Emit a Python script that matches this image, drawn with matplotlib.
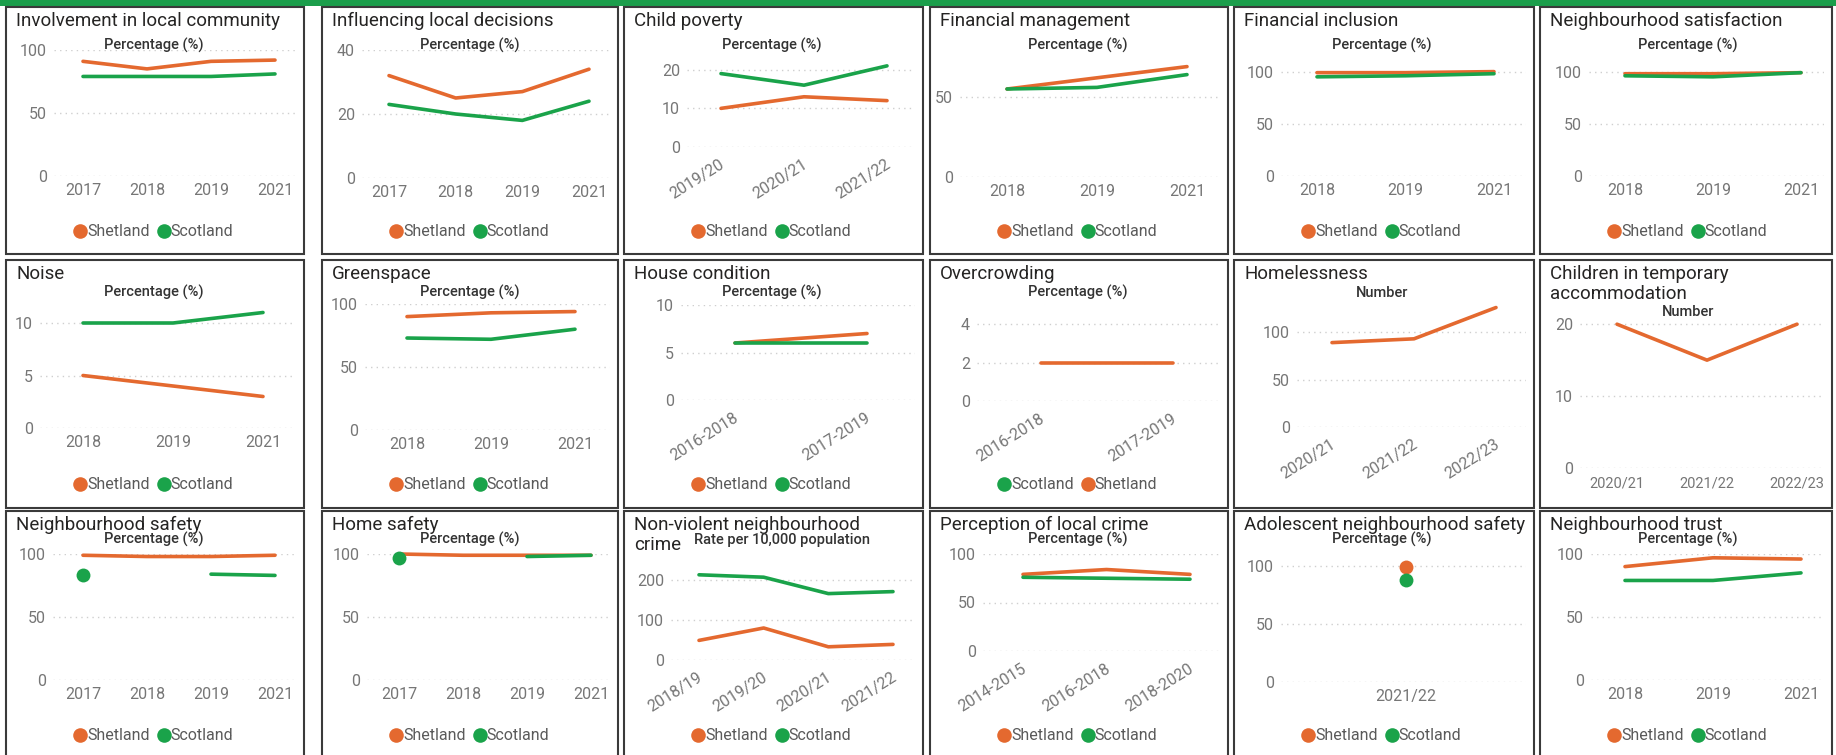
import numpy as np
import matplotlib
matplotlib.use("Agg")
import matplotlib.pyplot as plt
from matplotlib.patches import Rectangle
from matplotlib.lines import Line2D
from matplotlib.transforms import ScaledTranslation

plt.rcParams['font.family'] = ['Roboto', 'DejaVu Sans']

nan = np.nan

# ---------------- data ----------------
involvement_years = ["2017", "2018", "2019", "2021"]
involvement_shetland = [91, 85, 91, 92]
involvement_scotland = [79, 79, 79, 81]

influencing_years = ["2017", "2018", "2019", "2021"]
influencing_shetland = [32, 25, 27, 34]
influencing_scotland = [23, 20, 18, 24]

child_poverty_years = ["2019/20", "2020/21", "2021/22"]
child_poverty_shetland = [10, 13, 12]
child_poverty_scotland = [19, 16, 21]

fin_management_years = ["2018", "2019", "2021"]
fin_management_shetland = [55, 62, 69]
fin_management_scotland = [55, 56, 64]

fin_inclusion_years = ["2018", "2019", "2021"]
fin_inclusion_shetland = [99, 99, 100]
fin_inclusion_scotland = [95, 96, 98]

nbh_satisfaction_years = ["2018", "2019", "2021"]
nbh_satisfaction_shetland = [98, 98, 99]
nbh_satisfaction_scotland = [96, 95, 99]

noise_years = ["2018", "2019", "2021"]
noise_shetland = [5, 4, 3]
noise_scotland = [10, 10, 11]

greenspace_years = ["2018", "2019", "2021"]
greenspace_shetland = [90, 93, 94]
greenspace_scotland = [73, 72, 80]

house_condition_years = ["2016-2018", "2017-2019"]
house_condition_shetland = [6, 7]
house_condition_scotland = [6, 6]

overcrowding_years = ["2016-2018", "2017-2019"]
overcrowding_shetland = [2, 2]
overcrowding_scotland = [nan, nan]

homelessness_years = ["2020/21", "2021/22", "2022/23"]
homelessness_shetland = [89, 93, 126]

temp_accommodation_years = ["2020/21", "2021/22", "2022/23"]
temp_accommodation_shetland = [20, 15, 20]

nbh_safety_years = ["2017", "2018", "2019", "2021"]
nbh_safety_shetland = [99, 98, 98, 99]
nbh_safety_scotland = [83, nan, 84, 83]

home_safety_years = ["2017", "2018", "2019", "2021"]
home_safety_shetland = [100, 99, 99, 99]
home_safety_scotland = [97, nan, 98, 99]

crime_years = ["2018/19", "2019/20", "2020/21", "2021/22"]
crime_shetland = [49, 80, 33, 39]
crime_scotland = [213, 207, 166, 171]

crime_perception_years = ["2014-2015", "2016-2018", "2018-2020"]
crime_perception_shetland = [79, 84, 79]
crime_perception_scotland = [76, 75, 74]

adolescent_safety_years = ["2021/22"]
adolescent_safety_shetland = [99]
adolescent_safety_scotland = [88]

nbh_trust_years = ["2018", "2019", "2021"]
nbh_trust_shetland = [90, 97, 96]
nbh_trust_scotland = [79, 79, 85]

# ---------------- styling ----------------
W, H, DPI = 1836, 755, 100
SHET_C = '#E4692F'
SCOT_C = '#1AA34A'
BAND_C = '#1B9E4B'
BORDER_C = '#3A3A3A'
TITLE_C = '#252423'
SUB_C = '#333333'
TICK_C = '#767676'
LEG_C = '#5A5A5A'
GRID_C = '#CFCFCF'
LW = 2.6

COLS = [(6, 304), (322, 618), (624, 923), (930, 1228), (1234, 1534), (1540, 1832)]
ROWS = [(7, 254), (260, 508), (511, 758)]
SUB_BASE = {0: 43, 1: 37, 2: 33}

PCT = "Percentage (%)"
SL = ("Shetland", "Scotland")

PANELS = [
    dict(row=0, col=0, title=["Involvement in local community"], sub=PCT,
         cats=involvement_years, shet=involvement_shetland, scot=involvement_scotland, legend=SL,
         L=48, y0=169, ytop=43, ymax=100, yticks=[0, 50, 100], p0=77, pN=269, ticks='flat'),
    dict(row=0, col=1, title=["Influencing local decisions"], sub=PCT,
         cats=influencing_years, shet=influencing_shetland, scot=influencing_scotland, legend=SL,
         L=40, y0=171, ytop=43, ymax=40, yticks=[0, 20, 40], p0=67, pN=267, ticks='flat'),
    dict(row=0, col=2, title=["Child poverty"], sub=PCT,
         cats=child_poverty_years, shet=child_poverty_shetland, scot=child_poverty_scotland, legend=SL,
         L=63, y0=140, ytop=55, ymax=22, yticks=[0, 10, 20], p0=97, pN=263, ticks='rot'),
    dict(row=0, col=3, title=["Financial management"], sub=PCT,
         cats=fin_management_years, shet=fin_management_shetland, scot=fin_management_scotland, legend=SL,
         L=30, y0=170, ytop=50, ymax=75, yticks=[0, 50], p0=77, pN=257, ticks='flat'),
    dict(row=0, col=4, title=["Financial inclusion"], sub=PCT,
         cats=fin_inclusion_years, shet=fin_inclusion_shetland, scot=fin_inclusion_scotland, legend=SL,
         L=47, y0=169, ytop=50, ymax=114, yticks=[0, 50, 100], p0=83, pN=260, ticks='flat'),
    dict(row=0, col=5, title=["Neighbourhood satisfaction"], sub=PCT,
         cats=nbh_satisfaction_years, shet=nbh_satisfaction_shetland, scot=nbh_satisfaction_scotland,
         legend=SL, L=49, y0=169, ytop=50, ymax=114, yticks=[0, 50, 100], p0=85, pN=261, ticks='flat'),

    dict(row=1, col=0, title=["Noise"], sub=PCT,
         cats=noise_years, shet=noise_shetland, scot=noise_scotland, legend=SL,
         L=34, y0=168, ytop=42, ymax=12, yticks=[0, 5, 10], p0=77, pN=257, ticks='flat'),
    dict(row=1, col=1, title=["Greenspace"], sub=PCT,
         cats=greenspace_years, shet=greenspace_shetland, scot=greenspace_scotland, legend=SL,
         L=43, y0=170, ytop=44, ymax=100, yticks=[0, 50, 100], p0=85, pN=253, ticks='flat'),
    dict(row=1, col=2, title=["House condition"], sub=PCT,
         cats=house_condition_years, shet=house_condition_shetland, scot=house_condition_scotland,
         legend=SL, L=57, y0=140, ytop=45, ymax=10, yticks=[0, 5, 10], p0=111, pN=243, ticks='rot'),
    dict(row=1, col=3, title=["Overcrowding"], sub=PCT,
         cats=overcrowding_years, shet=overcrowding_shetland, scot=overcrowding_scotland,
         legend=("Scotland", "Shetland"),
         L=47, y0=141, ytop=45, ymax=5, yticks=[0, 2, 4], p0=111, pN=243, ticks='rot'),
    dict(row=1, col=4, title=["Homelessness"], sub="Number",
         cats=homelessness_years, shet=homelessness_shetland, scot=None, legend=None,
         L=63, y0=167, ytop=39, ymax=135, yticks=[0, 50, 100], p0=98, pN=262, ticks='rot'),
    dict(row=1, col=5, title=["Children in temporary", "accommodation"], sub="Number", sub_base=56,
         cats=temp_accommodation_years, shet=temp_accommodation_shetland, scot=None, legend=None,
         L=40, y0=208, ytop=57, ymax=21, yticks=[0, 10, 20], p0=77, pN=257, ticks='small'),

    dict(row=2, col=0, title=["Neighbourhood safety"], sub=PCT,
         cats=nbh_safety_years, shet=nbh_safety_shetland, scot=nbh_safety_scotland, legend=SL,
         L=47, y0=169, ytop=43, ymax=100, yticks=[0, 50, 100], p0=77, pN=269, ticks='flat'),
    dict(row=2, col=1, title=["Home safety"], sub=PCT,
         cats=home_safety_years, shet=home_safety_shetland, scot=home_safety_scotland, legend=SL,
         L=45, y0=169, ytop=43, ymax=100, yticks=[0, 50, 100], p0=77, pN=269, ticks='flat'),
    dict(row=2, col=2, title=["Non-violent neighbourhood", "crime"], sub="Rate per 10,000 population",
         sub_x=158,
         cats=crime_years, shet=crime_shetland, scot=crime_scotland, legend=SL,
         L=47, y0=149, ytop=53, ymax=240, yticks=[0, 100, 200], p0=75, pN=269, ticks='rot'),
    dict(row=2, col=3, title=["Perception of local crime"], sub=PCT,
         cats=crime_perception_years, shet=crime_perception_shetland, scot=crime_perception_scotland,
         legend=SL, L=53, y0=140, ytop=43, ymax=100, yticks=[0, 50, 100], p0=93, pN=260, ticks='rot'),
    dict(row=2, col=4, title=["Adolescent neighbourhood safety"], sub=PCT,
         cats=adolescent_safety_years, shet=adolescent_safety_shetland, scot=adolescent_safety_scotland,
         legend=SL, L=47, y0=171, ytop=43, ymax=110, yticks=[0, 50, 100], p0=172, pN=172, ticks='flat'),
    dict(row=2, col=5, title=["Neighbourhood trust"], sub=PCT,
         cats=nbh_trust_years, shet=nbh_trust_shetland, scot=nbh_trust_scotland, legend=SL,
         L=51, y0=169, ytop=43, ymax=100, yticks=[0, 50, 100], p0=85, pN=261, ticks='flat'),
]

fig = plt.figure(figsize=(W / DPI, H / DPI), dpi=DPI)
fig.patch.set_facecolor('white')


def fx(x):
    return x / W


def fy(y):
    return 1 - y / H


def px_offset(dx, dy):
    return ScaledTranslation(dx / DPI, -dy / DPI, fig.dpi_scale_trans)


# green header band
fig.add_artist(Rectangle((0, fy(6)), 1, 6 / H, transform=fig.transFigure,
                         facecolor=BAND_C, edgecolor='none', zorder=1))


def plot_series(ax, values, color):
    v = np.asarray(values, dtype=float)
    idx = np.arange(len(v))
    ax.plot(idx, v, color=color, lw=LW, solid_capstyle='round', solid_joinstyle='round',
            clip_on=False, zorder=3)
    ok = np.isfinite(v)
    for i in idx:
        left = i > 0 and ok[i - 1]
        right = i < len(v) - 1 and ok[i + 1]
        if ok[i] and not left and not right:
            ax.plot([i], [v[i]], 'o', color=color, ms=10, mec='none', clip_on=False, zorder=3)


for p in PANELS:
    x0, x1 = COLS[p['col']]
    yt, yb = ROWS[p['row']]
    pw = x1 - x0

    fig.add_artist(Rectangle((fx(x0), fy(yb)), pw / W, (yb - yt) / H, transform=fig.transFigure,
                             fill=False, edgecolor=BORDER_C, lw=1.5, zorder=1))

    for i, line in enumerate(p['title']):
        fig.text(fx(x0 + 10), fy(yt + 19 + 20 * i), line, fontsize=13.5, color=TITLE_C,
                 ha='left', va='baseline')

    sub_base = p.get('sub_base', SUB_BASE[p['row']])
    fig.text(fx(x0 + p.get('sub_x', 148)), fy(yt + sub_base), p['sub'], fontsize=10.5,
             color=SUB_C, ha='center', va='baseline', fontweight='medium')

    L, R = p['L'], pw - 8
    ax = fig.add_axes([fx(x0 + L), fy(yt + p['y0']), (R - L) / W, (p['y0'] - p['ytop']) / H])
    ax.set_facecolor('none')
    for s in ax.spines.values():
        s.set_visible(False)

    n = len(p['cats'])
    step = (p['pN'] - p['p0']) / (n - 1) if n > 1 else 100.0
    ax.set_xlim(-(p['p0'] - L) / step, (n - 1) + (R - p['pN']) / step)
    ax.set_ylim(0, p['ymax'])

    ax.set_yticks(p['yticks'])
    ax.yaxis.grid(True, color=GRID_C, lw=1.0, ls=(0, (1, 3)))
    ax.set_axisbelow(True)
    ax.tick_params(axis='y', length=0, labelsize=11.5, labelcolor=TICK_C, pad=5)

    ax.set_xticks(np.arange(n))
    if p['ticks'] == 'rot':
        ax.set_xticklabels(p['cats'], rotation=32, ha='right', va='top', rotation_mode='anchor')
        ax.tick_params(axis='x', length=0, labelsize=11.5, labelcolor=TICK_C, pad=7)
        for lbl in ax.get_xticklabels():
            lbl.set_transform(lbl.get_transform() + px_offset(-2, 0))
    elif p['ticks'] == 'small':
        ax.set_xticklabels(p['cats'])
        ax.tick_params(axis='x', length=0, labelsize=10.5, labelcolor=TICK_C, pad=6)
    else:
        ax.set_xticklabels(p['cats'])
        ax.tick_params(axis='x', length=0, labelsize=11.5, labelcolor=TICK_C, pad=5)

    plot_series(ax, p['shet'], SHET_C)
    if p['scot'] is not None:
        plot_series(ax, p['scot'], SCOT_C)

    if p['legend']:
        colors = {"Shetland": SHET_C, "Scotland": SCOT_C}
        handles = [Line2D([], [], ls='none', marker='o', ms=10.5, mec='none', color=colors[k])
                   for k in p['legend']]
        ax.legend(handles, list(p['legend']), loc='center', ncol=2, frameon=False,
                  bbox_to_anchor=(fx(x0 + 148), fy(yt + 225)), bbox_transform=fig.transFigure,
                  fontsize=11.5, labelcolor=LEG_C, handlelength=0.7, handletextpad=0.1,
                  columnspacing=0.5, borderaxespad=0, borderpad=0)

fig.savefig("out.png", dpi=DPI, facecolor='white')
